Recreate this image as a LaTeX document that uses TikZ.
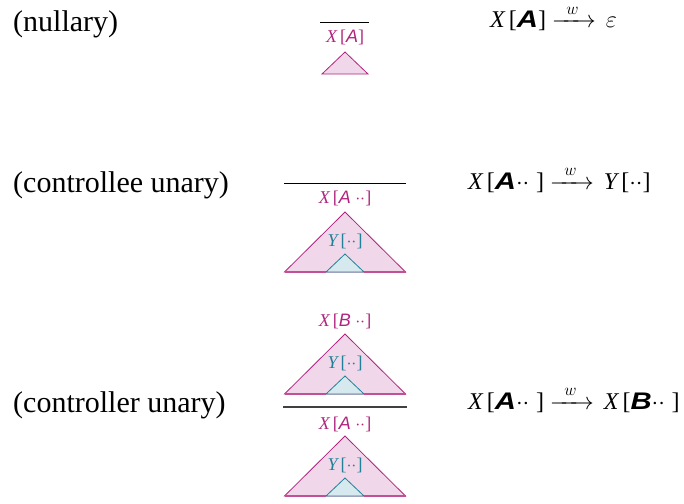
\RequirePackage{fix-cm}
\documentclass[tikz,border=0pt]{standalone}
\usepackage{amsmath}
\usepackage{graphicx}
\usepackage{fontspec}
\setmainfont{Liberation Serif}
\setsansfont{Liberation Sans}
\definecolor{mag}{HTML}{B0247E}
\definecolor{magfill}{HTML}{F1D7EA}
\definecolor{teal2}{HTML}{1F8296}
\definecolor{tealfill}{HTML}{D5E9EE}
\newcommand{\dd}{$\cdot\cdot$}
\newcommand{\SA}{\scalebox{1.22}[1]{\sffamily\bfseries\itshape A}}
\newcommand{\SB}{\scalebox{1.22}[1]{\sffamily\bfseries\itshape B}}
\newcommand{\arr}{\hspace{6pt}$\mathrel{\xrightarrow{\;\;w\;\;}}$\hspace{10pt}}
\newcommand{\XX}{{\itshape X}\hspace{4pt}}
\tikzset{
  side/.style={anchor=base west, inner sep=0pt, font=\fontsize{30}{32}\selectfont},
  formula/.style={anchor=base west, inner sep=0pt, font=\fontsize{24}{26}\selectfont},
  mlbl/.style={anchor=base, inner sep=0pt, text=mag, font=\fontsize{18}{20}\selectfont},
  tlbl/.style={anchor=base, inner sep=0pt, text=teal2, font=\fontsize{18}{20}\selectfont},
  rulebar/.style={line width=1pt, black},
  bigtri/.style={draw=mag, fill=magfill, line width=0.8pt, line join=miter},
  smalltri/.style={draw=teal2, fill=tealfill, line width=0.8pt},
  basebar/.style={draw=mag!80, line width=1.6pt}
}
\begin{document}
\begin{tikzpicture}[x=1pt,y=-1pt]
\useasboundingbox (0,0) rectangle (684,503);
% left labels
\node[side] (l1) at (13,31) {(nullary)};
\node[side] (l2) at (13,192.5) {(controllee unary)};
\node[side] (l3) at (13,412.5) {(controller unary)};
% formulas
\node[formula] (f1) at (490,28) {\XX[\SA]\arr$\varepsilon$};
\node[formula] (f2) at (468,189) {\XX[\SA\dd\;]\arr{\itshape Y}\hspace{4pt}[\dd]};
\node[formula] (f3) at (468,409) {\XX[\SA\dd\;]\arr\XX[\SB\dd\;]};
% nullary
\draw[rulebar] (320,22.5) -- (369,22.5);
\node[mlbl] (n1) at (345,42) {{\itshape X}\,[{\sffamily\itshape A}]};
\draw[bigtri] (345,52) -- (368,74) -- (322,74) -- cycle;
% controllee unary
\draw[rulebar] (284,183) -- (406,183);
\node[mlbl] (c1) at (345,203) {{\itshape X}\,[{\sffamily\itshape A}\ \dd]};
\draw[bigtri] (345,212) -- (405.5,272) -- (284.5,272) -- cycle;
\node[tlbl] (c2) at (345,246) {{\itshape Y}\,[\dd]};
\draw[smalltri] (345,254) -- (364,272) -- (326,272) -- cycle;
\draw[basebar] (284.5,272) -- (326,272);
\draw[basebar] (364,272) -- (405.5,272);
% controller unary top
\node[mlbl] (u1) at (345,326) {{\itshape X}\,[{\sffamily\itshape B}\ \dd]};
\draw[bigtri] (345,334) -- (405.5,394) -- (284.5,394) -- cycle;
\node[tlbl] (u2) at (345,368) {{\itshape Y}\,[\dd]};
\draw[smalltri] (345,376) -- (364,394) -- (326,394) -- cycle;
\draw[basebar] (284.5,394) -- (326,394);
\draw[basebar] (364,394) -- (405.5,394);
\draw[rulebar, line width=1.4pt, black!75] (283,407) -- (407,407);
% controller unary bottom
\node[mlbl] (u3) at (345,429) {{\itshape X}\,[{\sffamily\itshape A}\ \dd]};
\draw[bigtri] (345,436) -- (405.5,496) -- (284.5,496) -- cycle;
\node[tlbl] (u4) at (345,470) {{\itshape Y}\,[\dd]};
\draw[smalltri] (345,478) -- (364,496) -- (326,496) -- cycle;
\draw[basebar] (284.5,496) -- (326,496);
\draw[basebar] (364,496) -- (405.5,496);
\end{tikzpicture}
\end{document}
